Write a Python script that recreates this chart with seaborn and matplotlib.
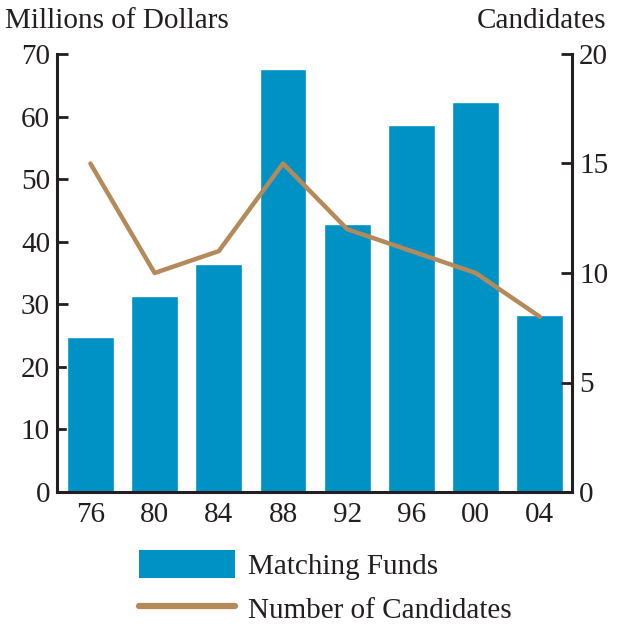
import numpy as np
import pandas as pd
import seaborn as sns
import matplotlib.pyplot as plt
from matplotlib.patches import Patch
from matplotlib.lines import Line2D

years = ["76", "80", "84", "88", "92", "96", "00", "04"]
funds = [24.8, 31.3, 36.4, 67.6, 42.8, 58.7, 62.3, 28.3]
candidates = [15, 10, 11, 15, 12, 11, 10, 8]

bar_color = "#0091c5"
line_color = "#b48a5a"
ink = "#231f20"

sns.set_style("white")
plt.rcParams['font.family'] = ['Liberation Serif', 'DejaVu Serif']
plt.rcParams['text.color'] = ink
plt.rcParams['xtick.color'] = ink
plt.rcParams['ytick.color'] = ink

df = pd.DataFrame({"year": years, "funds": funds, "candidates": candidates})

fig = plt.figure(figsize=(6.19, 6.27), dpi=100)
ax = fig.add_axes([57 / 619, 1 - 492 / 627, (572 - 57) / 619, (492 - 54) / 627])

sns.barplot(data=df, x="year", y="funds", color=bar_color, width=0.73,
            saturation=1, ax=ax)
ax.set_ylim(0, 70)
ax.set_xlim(-0.52, 7.5)
ax.set_yticks(range(0, 71, 10))
ax.set_xlabel("")
ax.set_ylabel("")

ax2 = ax.twinx()
x_pos = np.arange(len(years))
sns.lineplot(x=x_pos, y=candidates, color=line_color, linewidth=3.2,
             ax=ax2, sort=False)
ax2.set_ylim(0, 20)
ax2.set_yticks(range(0, 21, 5))
ax2.set_xlim(-0.52, 7.5)

fs = 21
for a in (ax, ax2):
    for s in a.spines.values():
        s.set_linewidth(2.2)
        s.set_color(ink)
    a.spines["top"].set_visible(False)
    a.tick_params(labelsize=fs, width=2, length=8, direction="in", pad=5)

ax.spines["right"].set_visible(False)
ax2.spines["left"].set_visible(False)
ax2.spines["bottom"].set_visible(False)
ax.tick_params(axis="x", length=0, pad=7)

fig.text(5 / 619, 1 - 21 / 627, "Millions of Dollars", fontsize=fs,
         ha="left", va="center")
fig.text(606 / 619, 1 - 21 / 627, "Candidates", fontsize=fs,
         ha="right", va="center")

handles = [Patch(facecolor=bar_color, edgecolor="none"),
           Line2D([0], [0], color=line_color, linewidth=4.5)]
fig.legend(handles, ["Matching Funds", "Number of Candidates"],
           loc="upper left", bbox_to_anchor=(139 / 619, 1 - 550 / 627),
           frameon=False, fontsize=fs, handlelength=3.3, handleheight=1.1,
           handletextpad=0.45, labelspacing=0.5, borderpad=0, borderaxespad=0)

fig.savefig("out.png", dpi=100)
